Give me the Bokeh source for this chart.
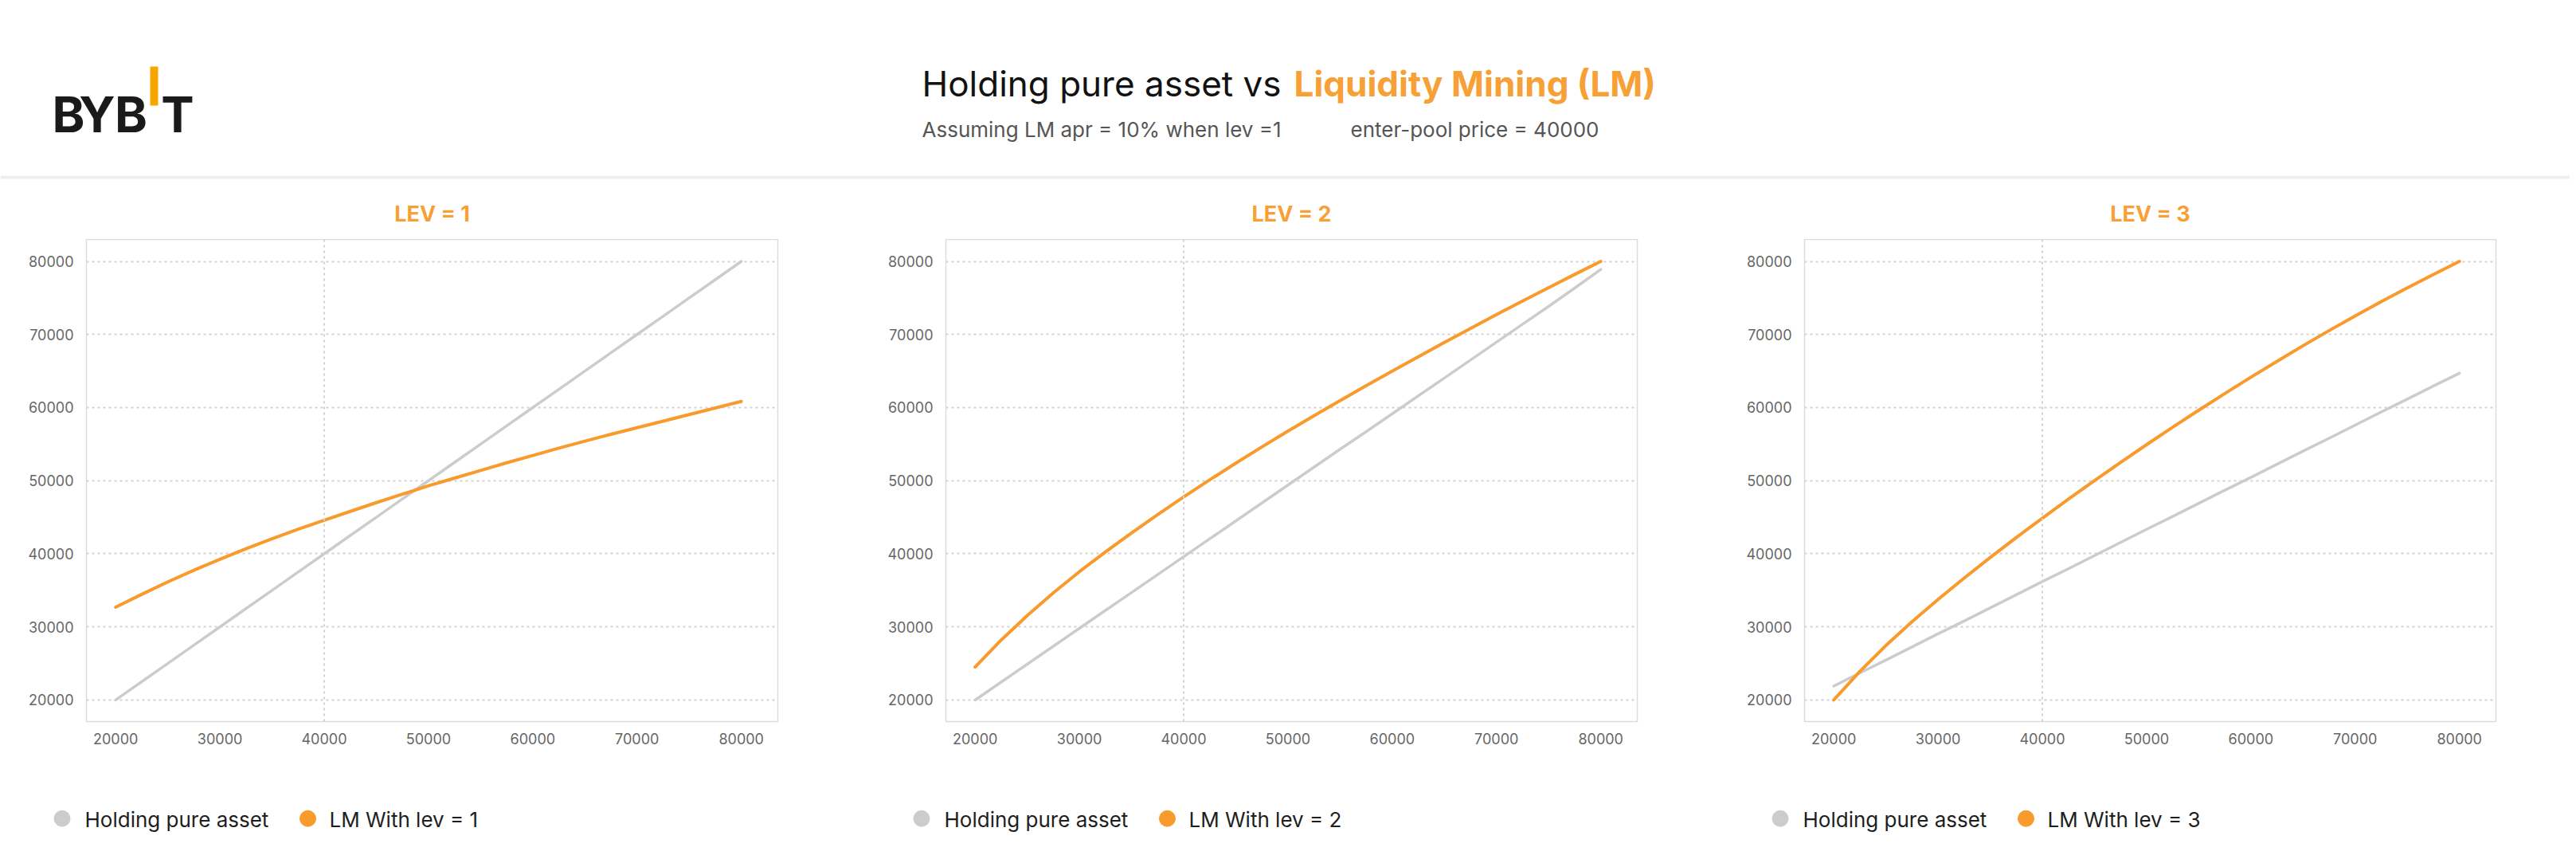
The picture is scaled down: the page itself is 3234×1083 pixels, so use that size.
from bokeh.plotting import figure
from bokeh.models import ColumnDataSource, Range1d, FixedTicker, Span
from bokeh.layouts import column, row
from bokeh.embed import file_html
from bokeh.resources import INLINE
from bokeh.core.properties import value

# ---------------- data ----------------
price = [20000, 22500, 25000, 27500, 30000, 32500, 35000, 37500, 40000, 42500, 45000, 47500, 50000,
         52500, 55000, 57500, 60000, 62500, 65000, 67500, 70000, 72500, 75000, 77500, 80000]
ticks = [20000, 30000, 40000, 50000, 60000, 70000, 80000]
enter_price = 40000

hold_lev1 = [20000, 22500, 25000, 27500, 30000, 32500, 35000, 37500, 40000, 42500, 45000, 47500, 50000,
             52500, 55000, 57500, 60000, 62500, 65000, 67500, 70000, 72500, 75000, 77500, 80000]
lm_lev1 = [32700, 34450, 36150, 37750, 39250, 40700, 42050, 43350, 44600, 45800, 47000, 48150, 49300,
           50350, 51400, 52450, 53450, 54450, 55400, 56350, 57250, 58150, 59050, 59950, 60850]

hold_lev2 = [20000, 22450, 24900, 27350, 29800, 32250, 34700, 37150, 39600, 42050, 44500, 46950, 49400,
             51850, 54300, 56700, 59150, 61600, 64050, 66500, 68950, 71400, 73850, 76350, 78900]
lm_lev2 = [24500, 28200, 31550, 34650, 37550, 40250, 42850, 45350, 47770, 50120, 52400, 54620, 56780,
           58890, 60960, 62990, 64980, 66960, 68910, 70830, 72720, 74580, 76410, 78220, 80000]

hold_lev3 = [21900, 23700, 25450, 27250, 29050, 30800, 32600, 34400, 36200, 37950, 39750, 41550, 43350,
             45100, 46900, 48700, 50450, 52250, 54050, 55800, 57600, 59400, 61150, 62950, 64700]
lm_lev3 = [20000, 23900, 27450, 30700, 33750, 36670, 39490, 42220, 44870, 47480, 50020, 52500, 54930,
           57310, 59640, 61920, 64150, 66330, 68460, 70530, 72540, 74490, 76380, 78210, 80000]

levs = [1, 2, 3]
title_black = "Holding pure asset vs"
title_orange = "Liquidity Mining (LM)"
subtitles = ["Assuming LM apr = 10% when lev =1", "enter-pool price = 40000"]
panel_title = "LEV = "
legend_hold = "Holding pure asset"
legend_lm = "LM With lev = "

# ---------------- style / layout ----------------
ORANGE = "#F7A035"
LINE_ORANGE = "#F89A2C"
GRAY = "#cccccc"
FONT = value("Inter")
PAGE_W = 3226
HDR_H = 300
LEG_H = 100
FRAME_W, FRAME_H = 868, 605
BORDERS = [(108, 110), (101, 109), (101, 93)]   # (left, right) border of each chart

frame_lefts = []
acc = 0
for (l, r) in BORDERS:
    frame_lefts.append(acc + l)
    acc += l + FRAME_W + r

# ---------------- header (logo, title, subtitle, divider, panel titles) ----------------
hdr = figure(width=PAGE_W, height=HDR_H, x_range=Range1d(0, PAGE_W), y_range=Range1d(HDR_H, 0),
             x_axis_type=None, y_axis_type=None, toolbar_location=None, output_backend="svg",
             min_border=0, outline_line_color=None)
hdr.grid.visible = False

hdr.text(x=[85.5, 121.5, 164, 222.5], y=[143, 143, 143, 143], text=["B", "Y", "B", "T"],
         text_align="center", text_baseline="alphabetic", text_font=FONT, text_font_style="bold",
         text_font_size="62px", text_color="#1a1a1a")
hdr.quad(left=[188], right=[198], top=[83], bottom=[132], fill_color="#F7A600", line_color=None)

hdr.text(x=[1608], y=[104], text=[title_black], text_align="right", text_baseline="alphabetic",
         text_font=FONT, text_font_size="44px", text_color="#121212")
hdr.text(x=[1624], y=[104], text=[title_orange], text_align="left", text_baseline="alphabetic",
         text_font=FONT, text_font_size="44px", text_font_style="bold", text_color=ORANGE)
hdr.text(x=[1157, 1695], y=[162, 162], text=subtitles, text_align="left", text_baseline="alphabetic",
         text_font=FONT, text_font_size="26px", text_color="#555555")
hdr.quad(left=[0], right=[PAGE_W], top=[220], bottom=[224], fill_color="#efefef", line_color=None)

hdr.text(x=[fl + FRAME_W / 2 for fl in frame_lefts], y=[268] * 3,
         text=[f"{panel_title}{lev}" for lev in levs], text_align="center", text_baseline="alphabetic",
         text_font=FONT, text_font_size="27px", text_font_style="bold", text_color=ORANGE)


# ---------------- charts ----------------
def make_chart(hold, lm, left, right):
    p = figure(title=None, frame_width=FRAME_W, frame_height=FRAME_H, min_border_left=left,
               min_border_right=right, min_border_top=0, min_border_bottom=70,
               x_range=Range1d(17200, 83500), y_range=Range1d(17050, 83000),
               toolbar_location=None, output_backend="svg", outline_line_color="#dcdcdc",
               outline_line_width=1.5)

    for ax in (p.xaxis, p.yaxis):
        ax.ticker = FixedTicker(ticks=ticks)
        ax.axis_line_color = None
        ax.major_tick_line_color = None
        ax.minor_tick_line_color = None
        ax.major_tick_out = 0
        ax.major_tick_in = 0
        ax.major_label_text_font = "Inter"
        ax.major_label_text_font_size = "18px"
        ax.major_label_text_color = "#666666"
    p.xaxis.major_label_standoff = 14
    p.yaxis.major_label_standoff = 16

    p.xgrid.visible = False
    p.ygrid.ticker = FixedTicker(ticks=ticks)
    p.ygrid.grid_line_color = "#d2d2d2"
    p.ygrid.grid_line_dash = "3 4"
    p.ygrid.grid_line_width = 2

    p.add_layout(Span(location=enter_price, dimension="height", line_color="#d2d2d2",
                      line_dash="3 4", line_width=2))

    src = ColumnDataSource(dict(x=price, hold=hold, lm=lm))
    p.line("x", "hold", source=src, line_color=GRAY, line_width=3.5, line_cap="round", line_join="round")
    p.line("x", "lm", source=src, line_color=LINE_ORANGE, line_width=4, line_cap="round", line_join="round")
    return p


charts = [make_chart(hold_lev1, lm_lev1, *BORDERS[0]),
          make_chart(hold_lev2, lm_lev2, *BORDERS[1]),
          make_chart(hold_lev3, lm_lev3, *BORDERS[2])]

# ---------------- legend strip (one legend under each chart) ----------------
leg = figure(width=PAGE_W, height=LEG_H, x_range=Range1d(0, PAGE_W), y_range=Range1d(LEG_H, 0),
             x_axis_type=None, y_axis_type=None, toolbar_location=None, output_backend="svg",
             min_border=0, outline_line_color=None)
leg.grid.visible = False

dot_x, dot_c, lab_x, lab_t = [], [], [], []
for fl, lev in zip(frame_lefts, levs):
    dot_x += [fl - 30.5, fl + 278]
    dot_c += [GRAY, LINE_ORANGE]
    lab_x += [fl - 2, fl + 305]
    lab_t += [legend_hold, f"{legend_lm}{lev}"]

leg.scatter(x=dot_x, y=[51.7] * len(dot_x), marker="circle", size=20, fill_color=dot_c, line_color=dot_c)
leg.text(x=lab_x, y=[52.5] * len(lab_x), text=lab_t, text_align="left", text_baseline="middle",
         text_font=FONT, text_font_size="26px", text_color="#1e1e1e")

page = column(hdr, row(*charts), leg)
open("out.html", "w").write(file_html(page, INLINE))
